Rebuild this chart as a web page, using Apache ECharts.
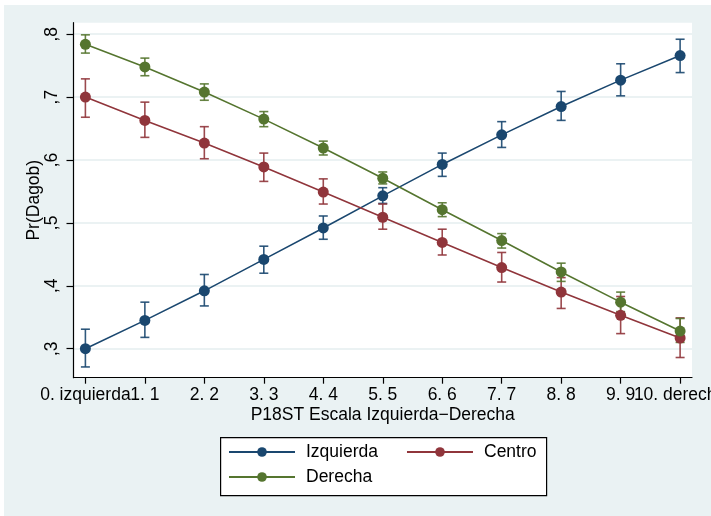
<!DOCTYPE html>
<html>
<head>
<meta charset="utf-8">
<script src="https://cdn.jsdelivr.net/npm/echarts@6/dist/echarts.min.js"></script>
<style>
  html, body { margin: 0; padding: 0; background: #ffffff; }
  #bg { position: absolute; left: 4px; top: 5px; width: 707px; height: 511px; background: #eaf2f3; }
  #chart { position: absolute; left: 0; top: 0; width: 711px; height: 516px; }
</style>
</head>
<body>
<div id="bg"></div>
<div id="chart"></div>
<script>
// Scale positions 0..10 and their labels
const categories = ['0. izquierda', '1. 1', '2. 2', '3. 3', '4. 4', '5. 5', '6. 6', '7. 7', '8. 8', '9. 9', '10. derecha'];
const positions = [0, 1, 2, 3, 4, 5, 6, 7, 8, 9, 10];
const yTicks = [0.3, 0.4, 0.5, 0.6, 0.7, 0.8];

// Predicted probabilities with 95% confidence bounds
const izquierda      = [0.300, 0.345, 0.392, 0.442, 0.492, 0.543, 0.593, 0.640, 0.685, 0.727, 0.766];
const izquierdaLow   = [0.271, 0.318, 0.368, 0.420, 0.474, 0.531, 0.574, 0.620, 0.663, 0.702, 0.739];
const izquierdaHigh  = [0.331, 0.374, 0.418, 0.463, 0.511, 0.556, 0.611, 0.661, 0.709, 0.753, 0.792];

const centro         = [0.700, 0.663, 0.627, 0.589, 0.549, 0.509, 0.469, 0.429, 0.390, 0.353, 0.317];
const centroLow      = [0.668, 0.636, 0.602, 0.566, 0.530, 0.490, 0.449, 0.406, 0.364, 0.324, 0.286];
const centroHigh     = [0.729, 0.692, 0.653, 0.611, 0.570, 0.530, 0.490, 0.453, 0.413, 0.383, 0.349];

const derecha        = [0.784, 0.748, 0.708, 0.665, 0.619, 0.571, 0.521, 0.472, 0.422, 0.374, 0.328];
const derechaLow     = [0.770, 0.734, 0.695, 0.653, 0.608, 0.562, 0.510, 0.460, 0.407, 0.359, 0.310];
const derechaHigh    = [0.799, 0.762, 0.721, 0.677, 0.630, 0.581, 0.532, 0.483, 0.436, 0.390, 0.348];

const NAVY = '#1a476f', MAROON = '#90353b', FOREST = '#55752f';
const FONT = 'Liberation Sans, Helvetica, Arial, sans-serif';
const FS = 17.5;

function pts(vals) { return positions.map((x, i) => [x, vals[i]]); }
function bars(lo, hi) { return positions.map((x, i) => [x, lo[i], hi[i]]); }

// Even and odd scale positions go on two overlaid axes so neighbouring labels are all kept
const evenPos = positions.filter(p => p % 2 === 0);
const oddPos = positions.filter(p => p % 2 === 1);

function capRenderer(color) {
  return function (params, api) {
    const x = api.value(0);
    const top = api.coord([x, api.value(2)]);
    const bot = api.coord([x, api.value(1)]);
    const hw = 4.5;
    const style = { stroke: color, lineWidth: 1.6, opacity: 0.9 };
    return {
      type: 'group',
      children: [
        { type: 'line', shape: { x1: top[0], y1: top[1], x2: bot[0], y2: bot[1] }, style: style },
        { type: 'line', shape: { x1: top[0] - hw, y1: top[1], x2: top[0] + hw, y2: top[1] }, style: style },
        { type: 'line', shape: { x1: bot[0] - hw, y1: bot[1], x2: bot[0] + hw, y2: bot[1] }, style: style }
      ]
    };
  };
}

function lineSeries(name, vals, color) {
  return {
    name: name, type: 'line', data: pts(vals),
    symbol: 'circle', symbolSize: 11, showSymbol: true,
    lineStyle: { color: color, width: 1.6 },
    itemStyle: { color: color },
    z: 3, silent: true
  };
}

function errSeries(name, lo, hi, color) {
  return {
    name: name, type: 'custom', data: bars(lo, hi),
    renderItem: capRenderer(color),
    encode: { x: 0, y: [1, 2] },
    z: 2, silent: true
  };
}

function xAxisFor(values, withLine, withName) {
  return {
    type: 'value', min: -0.2, max: 10.2, position: 'bottom', offset: 0,
    name: withName ? 'P18ST Escala Izquierda\u2212Derecha' : '',
    nameLocation: 'middle', nameGap: 28, nameMoveOverlap: false,
    nameTextStyle: { fontSize: FS, color: '#000', fontFamily: FONT },
    axisLine: { show: withLine, onZero: false, lineStyle: { color: '#000', width: 1.2 } },
    axisTick: { show: true, length: 6, customValues: values, lineStyle: { color: '#000', width: 1.2 } },
    axisLabel: {
      customValues: values, margin: 8, fontSize: FS, color: '#000', fontFamily: FONT,
      showMinLabel: true, showMaxLabel: true, hideOverlap: false,
      formatter: v => categories[Math.round(v)]
    },
    splitLine: { show: false }
  };
}

const chart = echarts.init(document.getElementById('chart'), null, { renderer: 'canvas' });

chart.setOption({
  animation: false,
  textStyle: { fontFamily: FONT, color: '#000' },
  grid: {
    left: 73.5, top: 22.7, right: 19, bottom: 138.3,
    show: true, backgroundColor: '#ffffff', borderWidth: 0,
    outerBoundsMode: 'none'
  },
  xAxis: [xAxisFor(evenPos, true, true), xAxisFor(oddPos, false, false)],
  yAxis: {
    type: 'value', min: 0.2539, max: 0.8183,
    name: 'Pr(Dagob)',
    nameLocation: 'middle', nameGap: 30, nameMoveOverlap: false,
    nameTextStyle: { fontSize: FS, color: '#000', fontFamily: FONT },
    axisLine: { show: true, onZero: false, lineStyle: { color: '#000', width: 1.2 } },
    axisTick: { show: true, length: 7, customValues: yTicks, lineStyle: { color: '#000', width: 1.2 } },
    axisLabel: {
      customValues: yTicks, rotate: 90, margin: 12, fontSize: FS, color: '#000', fontFamily: FONT,
      showMinLabel: true, showMaxLabel: true,
      formatter: v => ',' + Math.round(v * 10)
    },
    splitLine: { show: true, lineStyle: { color: '#e4eeef', width: 1.6 } }
  },
  graphic: [{
    type: 'rect', left: 220, top: 437, z: 0,
    shape: { width: 326, height: 58 },
    style: { fill: '#ffffff', stroke: '#000', lineWidth: 1.2 }
  }],
  legend: [
    {
      data: ['Izquierda', 'Centro'], left: 228, top: 443, padding: 0,
      itemWidth: 66, itemHeight: 12, itemGap: 28, z: 10,
      textStyle: { fontSize: FS, color: '#000', fontFamily: FONT, padding: [0, 0, 0, 6] },
      selectedMode: false
    },
    {
      data: ['Derecha'], left: 228, top: 468, padding: 0,
      itemWidth: 66, itemHeight: 12, z: 10,
      textStyle: { fontSize: FS, color: '#000', fontFamily: FONT, padding: [0, 0, 0, 6] },
      selectedMode: false
    }
  ],
  series: [
    errSeries('IC Izquierda', izquierdaLow, izquierdaHigh, NAVY),
    lineSeries('Izquierda', izquierda, NAVY),
    errSeries('IC Centro', centroLow, centroHigh, MAROON),
    lineSeries('Centro', centro, MAROON),
    errSeries('IC Derecha', derechaLow, derechaHigh, FOREST),
    lineSeries('Derecha', derecha, FOREST)
  ]
});
</script>
</body>
</html>
